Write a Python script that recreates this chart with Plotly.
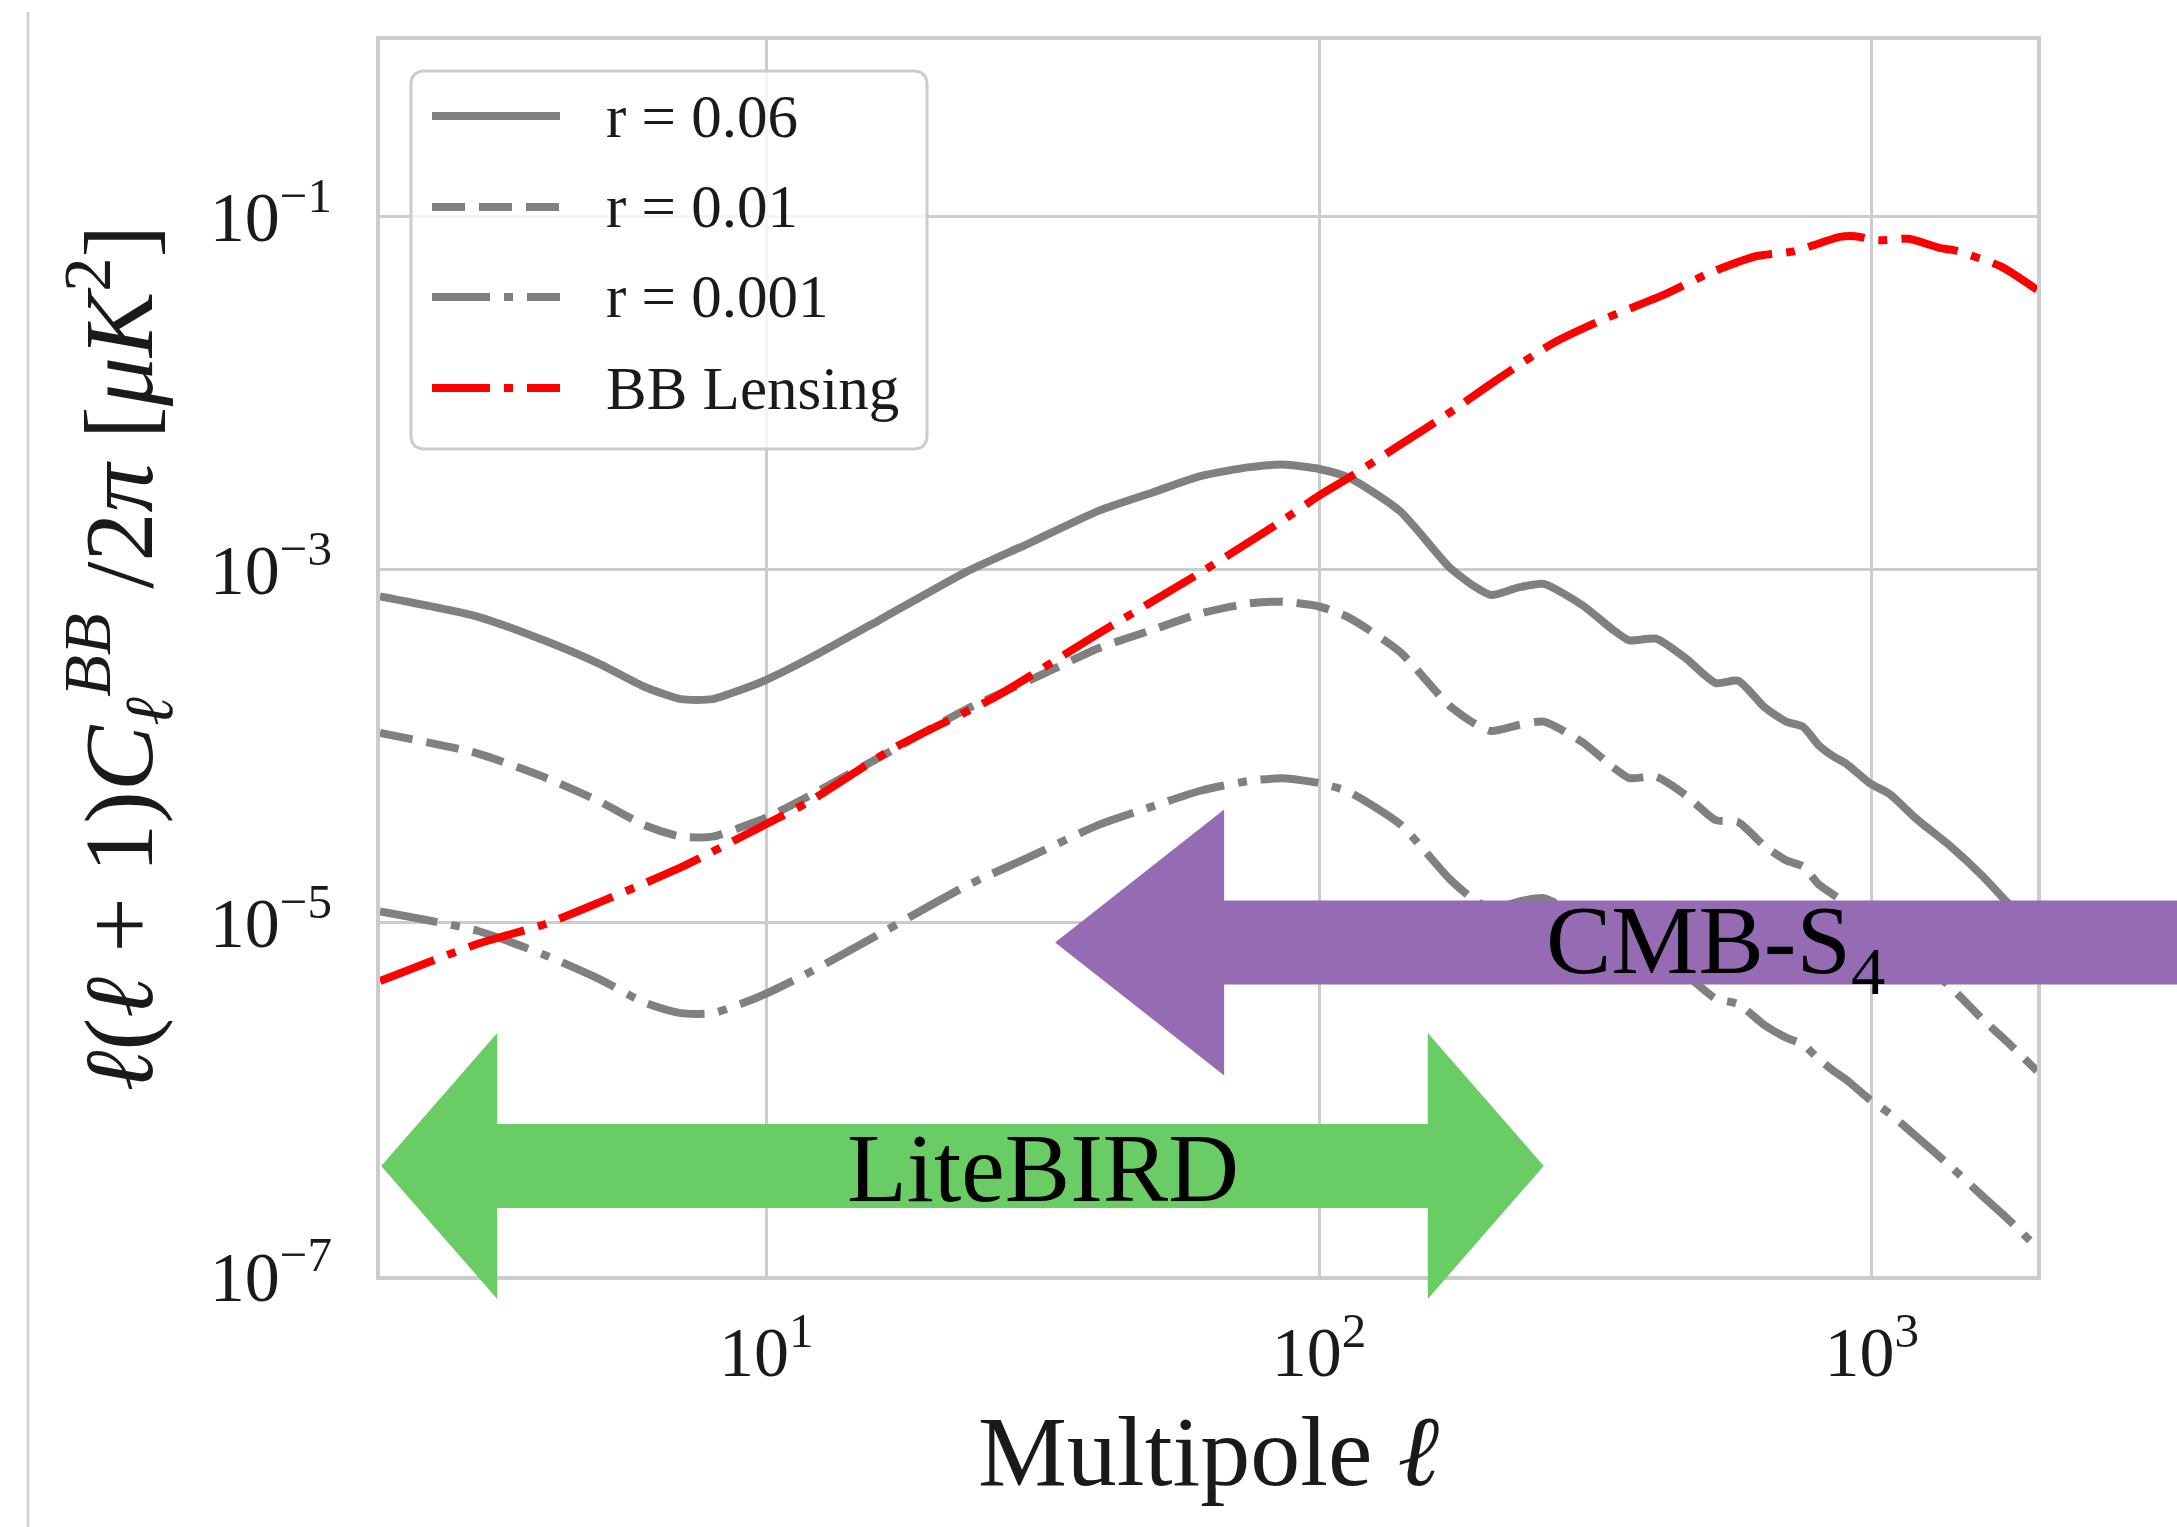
import numpy as np
import plotly.graph_objects as go

# ---------------- data ----------------
ell_r = [2, 3, 4, 5, 6, 7, 8, 9, 10, 12, 16, 23, 30, 40, 50, 61, 75, 86, 100, 113,
         140, 172, 190, 205, 230, 255, 300, 340, 364, 407, 460, 522, 573, 640, 700,
         751, 800, 850, 900, 991, 1077, 1204, 1383, 1589, 1752, 1990]

cl_r006 = [7.06e-4, 5.43e-4, 3.93e-4, 2.92e-4, 2.18e-4, 1.85e-4, 1.85e-4, 2.09e-4, 2.38e-4,
           3.16e-4, 5.18e-4, 9.73e-4, 1.42e-3, 2.16e-3, 2.74e-3, 3.39e-3, 3.81e-3, 3.94e-3,
           3.72e-3, 3.33e-3, 2.15e-3, 1.035e-3, 8.13e-4, 7.19e-4, 7.94e-4, 8.32e-4, 6.27e-4,
           4.57e-4, 3.98e-4, 4.07e-4, 3.16e-4, 2.28e-4, 2.35e-4, 1.66e-4, 1.38e-4, 1.29e-4,
           1.02e-4, 8.81e-5, 7.94e-5, 6.19e-5, 5.36e-5, 3.88e-5, 2.74e-5, 1.83e-5, 1.32e-5,
           8.91e-6]

cl_r001 = [1.19e-4, 9.12e-5, 6.61e-5, 4.86e-5, 3.59e-5, 3.08e-5, 3.08e-5, 3.48e-5, 3.94e-5,
           5.27e-5, 8.63e-5, 1.62e-4, 2.37e-4, 3.60e-4, 4.57e-4, 5.65e-4, 6.46e-4, 6.58e-4,
           6.19e-4, 5.37e-4, 3.43e-4, 1.70e-4, 1.36e-4, 1.22e-4, 1.32e-4, 1.38e-4, 1.05e-4,
           7.62e-5, 6.61e-5, 6.73e-5, 5.31e-5, 3.82e-5, 3.72e-5, 2.72e-5, 2.26e-5, 2.09e-5,
           1.66e-5, 1.45e-5, 1.29e-5, 1.00e-5, 8.61e-6, 6.24e-6, 4.38e-6, 2.83e-6, 2.14e-6,
           1.45e-6]

cl_r0001 = [1.16e-5, 9.02e-6, 6.52e-6, 4.79e-6, 3.55e-6, 3.08e-6, 3.08e-6, 3.48e-6, 3.98e-6,
            5.27e-6, 8.63e-6, 1.62e-5, 2.37e-5, 3.60e-5, 4.57e-5, 5.60e-5, 6.38e-5, 6.59e-5,
            6.19e-5, 5.53e-5, 3.63e-5, 1.78e-5, 1.36e-5, 1.20e-5, 1.32e-5, 1.38e-5, 1.05e-5,
            7.59e-6, 6.61e-6, 6.76e-6, 5.13e-6, 3.72e-6, 3.47e-6, 2.63e-6, 2.24e-6, 2.05e-6,
            1.70e-6, 1.46e-6, 1.29e-6, 1.00e-6, 8.32e-7, 6.17e-7, 4.22e-7, 2.82e-7, 2.14e-7,
            1.45e-7]

ell_lens = [2, 3, 4, 5, 7, 10, 12, 17, 26, 40, 60, 75, 86, 100, 113, 140, 172, 208, 265,
            326, 421, 509, 617, 723, 875, 933, 1026, 1166, 1325, 1412, 1711, 1990]
cl_lens = [4.68e-6, 7.59e-6, 9.89e-6, 1.31e-5, 2.06e-5, 3.63e-5, 4.90e-5, 9.77e-5, 1.91e-4,
           4.37e-4, 9.33e-4, 1.445e-3, 1.905e-3, 2.63e-3, 3.31e-3, 5.09e-3, 7.73e-3, 1.17e-2,
           1.92e-2, 2.61e-2, 3.61e-2, 4.80e-2, 5.96e-2, 6.35e-2, 7.67e-2, 7.74e-2, 7.34e-2,
           7.48e-2, 6.65e-2, 6.44e-2, 5.22e-2, 3.85e-2]

series_names = ["r = 0.06", "r = 0.01", "r = 0.001", "BB Lensing"]

x_tickvals = [10, 100, 1000]
x_ticktext = ["10<sup>1</sup>", "10<sup>2</sup>", "10<sup>3</sup>"]
y_tickvals = [1e-1, 1e-3, 1e-5, 1e-7]
y_ticktext = ["10<sup>−1</sup>", "10<sup>−3</sup>", "10<sup>−5</sup>", "10<sup>−7</sup>"]

# experiment ranges (annotation arrows), in data units
litebird_ell = [2.01, 255]
litebird_level = 4.2e-7
litebird_label_ell = 31.7
cmbs4_tip_ell = 33.3
cmbs4_level = 7.75e-6
cmbs4_label_ell = 521

# ---------------- layout geometry ----------------
W, H = 2177, 1527
ML, MR, MT, MB = 380, 140, 40, 251
PW, PH = W - ML - MR, H - MT - MB
x_range = [np.log10(2.0), np.log10(1990.0)]
y_range = [-7.0, 0.0]

GRAY = "#808080"
RED = "#ff0000"
GREEN = "#6acc64"
PURPLE = "#956cb4"
FONT = "Liberation Serif"
DASH = "33px,14px"
DASHDOT = "58px,14px,9px,14px"
LW = 8


def px2paper(X, Y):
    return (X - ML) / PW, 1 - (Y - MT) / PH


def data2paper(ell, c):
    fx = (np.log10(ell) - x_range[0]) / (x_range[1] - x_range[0])
    fy = (np.log10(c) - y_range[0]) / (y_range[1] - y_range[0])
    return fx, fy


fig = go.Figure()
styles = [("solid", GRAY), (DASH, GRAY), (DASHDOT, GRAY)]
for cl, (dash, col), name in zip([cl_r006, cl_r001, cl_r0001], styles, series_names[:3]):
    fig.add_trace(go.Scatter(x=ell_r, y=cl, mode="lines", name=name,
                             line=dict(color=col, width=LW, dash=dash, shape="spline",
                                       smoothing=0.6), showlegend=False))
fig.add_trace(go.Scatter(x=ell_lens, y=cl_lens, mode="lines", name=series_names[3],
                         line=dict(color=RED, width=LW, dash=DASHDOT, shape="spline",
                                   smoothing=0.6), showlegend=False))

shapes = []
annotations = []

# faint vertical line at far left (slide crop edge)
x0, y0 = px2paper(28, 12)
_, y1 = px2paper(28, H)
shapes.append(dict(type="line", xref="paper", yref="paper", x0=x0, x1=x0, y0=y0, y1=y1,
                   line=dict(color="#d4d4d4", width=3), layer="above"))

# ---- manual legend (matplotlib style) ----
bx0, by0, bx1, by1, rad = 411, 71, 927, 449, 14
def P(X, Y):
    fx, fy = px2paper(X, Y)
    return f"{fx:.5f},{fy:.5f}"
path = (f"M {P(bx0 + rad, by0)} L {P(bx1 - rad, by0)} Q {P(bx1, by0)} {P(bx1, by0 + rad)} "
        f"L {P(bx1, by1 - rad)} Q {P(bx1, by1)} {P(bx1 - rad, by1)} "
        f"L {P(bx0 + rad, by1)} Q {P(bx0, by1)} {P(bx0, by1 - rad)} "
        f"L {P(bx0, by0 + rad)} Q {P(bx0, by0)} {P(bx0 + rad, by0)} Z")
shapes.append(dict(type="path", xref="paper", yref="paper", path=path,
                   fillcolor="rgba(255,255,255,0.8)", line=dict(color="#cccccc", width=3),
                   layer="above"))
leg_rows = [116, 207, 297, 388]
leg_styles = [("solid", GRAY), (DASH, GRAY), (DASHDOT, GRAY), (DASHDOT, RED)]
for Yr, (dash, col), name in zip(leg_rows, leg_styles, series_names):
    lx0, ly0 = px2paper(432, Yr)
    lx1, _ = px2paper(560, Yr)
    shapes.append(dict(type="line", xref="paper", yref="paper", x0=lx0, x1=lx1, y0=ly0, y1=ly0,
                       line=dict(color=col, width=LW, dash=dash), layer="above"))
    tx, ty = px2paper(604, Yr)
    annotations.append(dict(xref="paper", yref="paper", x=tx, y=ty, text=name, showarrow=False,
                            xanchor="left", yanchor="middle",
                            font=dict(family=FONT, size=61, color="#1a1a1a")))

# ---- LiteBIRD double arrow ----
head_len, head_half, shaft_half = 116 / PW, 133 / PH, 42 / PH
lxa, lya = data2paper(litebird_ell[0], litebird_level)
lxb, _ = data2paper(litebird_ell[1], litebird_level)
path = (f"M {lxa:.5f},{lya:.5f} L {lxa + head_len:.5f},{lya + head_half:.5f} "
        f"L {lxa + head_len:.5f},{lya + shaft_half:.5f} L {lxb - head_len:.5f},{lya + shaft_half:.5f} "
        f"L {lxb - head_len:.5f},{lya + head_half:.5f} L {lxb:.5f},{lya:.5f} "
        f"L {lxb - head_len:.5f},{lya - head_half:.5f} L {lxb - head_len:.5f},{lya - shaft_half:.5f} "
        f"L {lxa + head_len:.5f},{lya - shaft_half:.5f} L {lxa + head_len:.5f},{lya - head_half:.5f} Z")
shapes.append(dict(type="path", xref="paper", yref="paper", path=path, fillcolor=GREEN,
                   line=dict(width=0), layer="above"))
ltx, _ = data2paper(litebird_label_ell, litebird_level)
annotations.append(dict(xref="paper", yref="paper", x=ltx, y=lya - 0.002,
                        text="LiteBIRD", showarrow=False, xanchor="center", yanchor="middle",
                        font=dict(family=FONT, size=98, color="#000000")))

# ---- CMB-S4 left arrow ----
head_len2 = 169 / PW
cxa, cya = data2paper(cmbs4_tip_ell, cmbs4_level)
cxb = (W - ML) / PW + 0.01
path = (f"M {cxa:.5f},{cya:.5f} L {cxa + head_len2:.5f},{cya + head_half:.5f} "
        f"L {cxa + head_len2:.5f},{cya + shaft_half:.5f} L {cxb:.5f},{cya + shaft_half:.5f} "
        f"L {cxb:.5f},{cya - shaft_half:.5f} L {cxa + head_len2:.5f},{cya - shaft_half:.5f} "
        f"L {cxa + head_len2:.5f},{cya - head_half:.5f} Z")
shapes.append(dict(type="path", xref="paper", yref="paper", path=path, fillcolor=PURPLE,
                   line=dict(width=0), layer="above"))
ctx, _ = data2paper(cmbs4_label_ell, cmbs4_level)
annotations.append(dict(xref="paper", yref="paper", x=ctx, y=cya - 0.004, text="CMB-S<sub>4</sub>",
                        showarrow=False, xanchor="center", yanchor="middle",
                        font=dict(family=FONT, size=98, color="#000000")))

axis_common = dict(type="log", showgrid=True, gridcolor="#cccccc", gridwidth=3,
                   showline=True, mirror=True, linecolor="#cccccc", linewidth=4,
                   zeroline=False, ticks="", tickfont=dict(family=FONT, size=70, color="#1a1a1a"))

fig.update_layout(
    width=W, height=H,
    margin=dict(l=ML, r=MR, t=MT, b=MB, autoexpand=False),
    paper_bgcolor="white", plot_bgcolor="white",
    showlegend=False,
    shapes=shapes, annotations=annotations,
    xaxis=dict(axis_common, range=x_range, tickvals=x_tickvals, ticktext=x_ticktext,
               ticklabelstandoff=12,
               title=dict(text="Multipole <i>ℓ</i>", standoff=26,
                          font=dict(family=FONT, size=100, color="#1a1a1a"))),
    yaxis=dict(axis_common, range=y_range, tickvals=y_tickvals, ticktext=y_ticktext,
               ticklabelstandoff=30,
               title=dict(text="<i>ℓ</i>(<i>ℓ</i> + 1)<i>C</i><sub><i>ℓ</i></sub><sup><i>BB</i></sup>"
                               " /2<i>π</i> [<i>μK</i><sup>2</sup>]",
                          standoff=26, font=dict(family=FONT, size=98, color="#1a1a1a"))),
)

fig.write_html("out.html")
